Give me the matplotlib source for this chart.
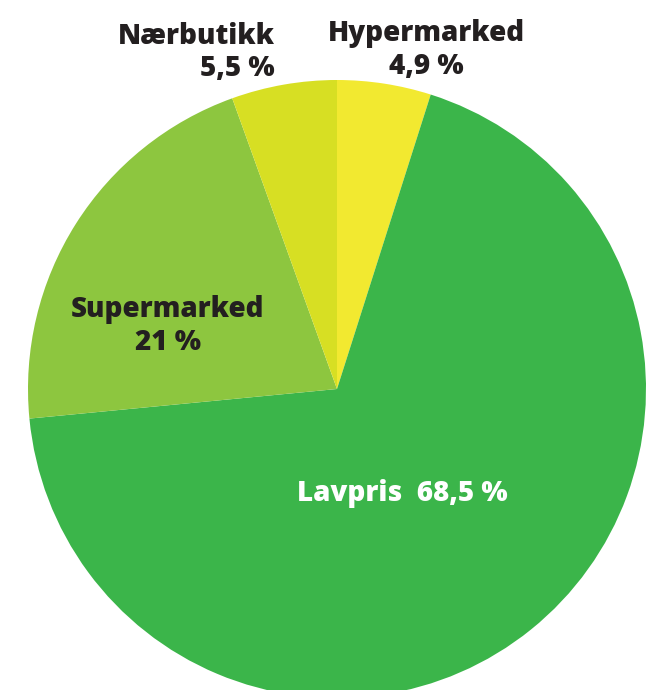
import matplotlib
matplotlib.use("Agg")
import matplotlib.pyplot as plt

labels = ["Hypermarked", "Lavpris", "Supermarked", "Nærbutikk"]
values = [4.9, 68.5, 21.0, 5.5]
value_texts = ["4,9 %", "68,5 %", "21 %", "5,5 %"]
colors = ["#F2E930", "#3BB54A", "#8DC63F", "#D7DF23"]

W, H = 657, 690
fig = plt.figure(figsize=(W / 100, H / 100), dpi=100)
ax = fig.add_axes([0, 0, 1, 1])

cx, cy, r = 337, H - 389, 309
ax.pie(values, colors=colors, startangle=90, counterclock=False,
       center=(cx, cy), radius=r, frame=True,
       wedgeprops=dict(linewidth=0))
ax.set_xlim(0, W)
ax.set_ylim(0, H)
ax.set_aspect("equal")
ax.axis("off")

font = dict(family=["Open Sans", "DejaVu Sans"], fontweight=800, fontsize=20)
dark = "#231F20"

def py(y):
    return H - y

ax.text(275, py(36), labels[3], ha="right", va="center", color=dark, **font)
ax.text(275, py(69), value_texts[3], ha="right", va="center", color=dark, **font)
ax.text(426, py(33), labels[0], ha="center", va="center", color=dark, **font)
ax.text(426, py(66), value_texts[0], ha="center", va="center", color=dark, **font)
ax.text(168, py(309), labels[2], ha="center", va="center", color=dark, **font)
ax.text(168, py(342), value_texts[2], ha="center", va="center", color=dark, **font)
ax.text(402, py(494), labels[1] + "  " + value_texts[1], ha="center", va="center",
        color="white", **font)

fig.savefig("out.png", dpi=100)
